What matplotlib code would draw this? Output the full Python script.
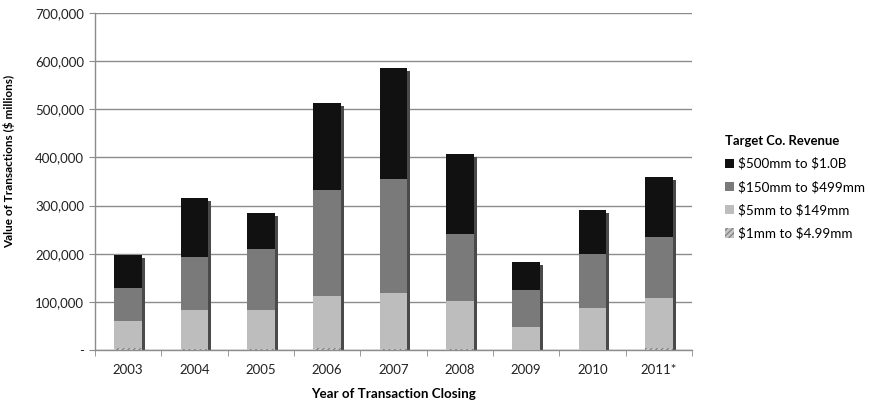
import matplotlib
matplotlib.use("Agg")
import matplotlib.pyplot as plt
import matplotlib.transforms as mtransforms
from matplotlib.patches import Patch
import numpy as np

plt.rcParams["font.family"] = ["Lato", "DejaVu Sans"]
plt.rcParams["hatch.linewidth"] = 0.8

years = ["2003", "2004", "2005", "2006", "2007", "2008", "2009", "2010", "2011*"]

# deal value by target revenue band ($ millions)
rev_1_5 = [4000, 2000, 2000, 4000, 3000, 3000, 1000, 500, 5000]
rev_5_149 = [57000, 81000, 81000, 109000, 116000, 99000, 47000, 86500, 103000]
rev_150_499 = [68000, 111000, 127000, 219000, 236000, 139000, 77000, 112000, 127000]
rev_500_1b = [68000, 122000, 75000, 181000, 231000, 166000, 58000, 92000, 124000]

series = [
    (r"\$1mm to \$4.99mm", rev_1_5, "#c4c4c4", "//////"),
    (r"\$5mm to \$149mm", rev_5_149, "#bdbdbd", None),
    (r"\$150mm to \$499mm", rev_150_499, "#7a7a7a", None),
    (r"\$500mm to \$1.0B", rev_500_1b, "#111111", None),
]

fig = plt.figure(figsize=(8.69, 4.12), dpi=100)
ax = fig.add_axes([95 / 869, 62 / 412, 597 / 869, 337 / 412])

x = np.arange(len(years))
width = 0.42
totals = np.sum([s[1] for s in series], axis=0)

# drop shadow behind each stack
shadow_tr = ax.transData + mtransforms.ScaledTranslation(3 / 100, -3 / 100, fig.dpi_scale_trans)
ax.bar(x, totals, width, color="#4a4a4a", transform=shadow_tr, zorder=2)

bottom = np.zeros(len(years))
for label, vals, color, hatch in series:
    ax.bar(x, vals, width, bottom=bottom, color=color, hatch=hatch,
           edgecolor="#7a7a7a" if hatch else color, linewidth=0, zorder=3)
    bottom += np.array(vals)

ax.set_xlim(-0.5, len(years) - 0.5)
ax.set_ylim(0, 700000)
ax.set_yticks(np.arange(0, 700001, 100000))
ax.set_yticklabels(["-"] + [f"{v:,}" for v in range(100000, 700001, 100000)])
ax.set_xticks(x)
ax.set_xticklabels(years)
ax.set_xticks(np.arange(-0.5, len(years), 1), minor=True)

ax.grid(True, axis="y", color="#8c8c8c", linewidth=1.0, zorder=1)
ax.set_axisbelow(True)
for side in ("top", "right"):
    ax.spines[side].set_visible(False)
for side in ("left", "bottom"):
    ax.spines[side].set_color("#8c8c8c")
    ax.spines[side].set_linewidth(1.0)

ax.tick_params(axis="x", which="major", length=0, labelsize=9.5, pad=10, colors="#222222")
ax.tick_params(axis="x", which="minor", length=4, color="#8c8c8c", direction="out")
ax.tick_params(axis="y", length=4, color="#8c8c8c", labelsize=9.5, pad=4, labelcolor="#222222")

ax.set_ylabel(r"Value of Transactions (\$ millions)", fontsize=8.5, fontweight="bold")
ax.yaxis.set_label_coords(-0.134, 0.56)
ax.set_xlabel("Year of Transaction Closing", fontsize=9.6, fontweight="bold", labelpad=9)

handles = [Patch(facecolor=c, hatch=h, edgecolor="#7a7a7a" if h else c, linewidth=0, label=l)
           for l, _, c, h in reversed(series)]
leg = ax.legend(handles=handles, title="Target Co. Revenue", loc="upper left",
                bbox_to_anchor=(1.035, 0.675), frameon=False, fontsize=9.7,
                handlelength=0.68, handleheight=0.68, handletextpad=0.27,
                labelspacing=0.8, alignment="left")
leg.get_title().set_fontweight("bold")
leg.get_title().set_fontsize(9.4)

fig.savefig("out.png", dpi=100)
